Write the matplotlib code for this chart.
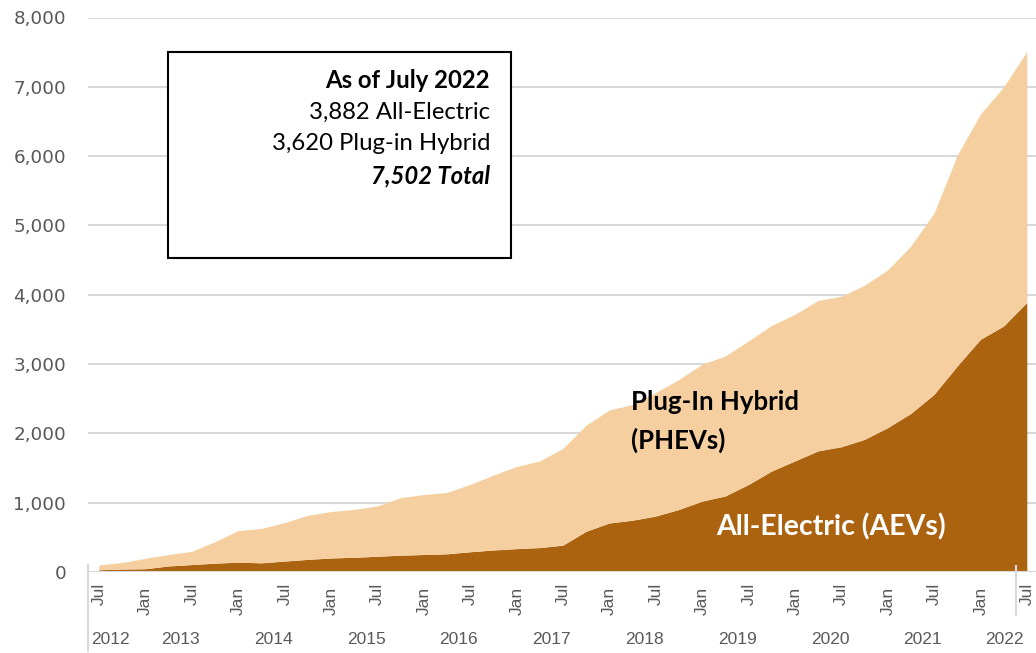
import matplotlib

matplotlib.use("Agg")
import matplotlib.pyplot as plt
import matplotlib.transforms as mtransforms
from matplotlib.lines import Line2D
from matplotlib.patches import Rectangle
from matplotlib.ticker import FuncFormatter

# quarterly snapshots, Jul 2012 .. Jul 2022
quarters = [
    "2012-07", "2012-10",
    "2013-01", "2013-04", "2013-07", "2013-10",
    "2014-01", "2014-04", "2014-07", "2014-10",
    "2015-01", "2015-04", "2015-07", "2015-10",
    "2016-01", "2016-04", "2016-07", "2016-10",
    "2017-01", "2017-04", "2017-07", "2017-10",
    "2018-01", "2018-04", "2018-07", "2018-10",
    "2019-01", "2019-04", "2019-07", "2019-10",
    "2020-01", "2020-04", "2020-07", "2020-10",
    "2021-01", "2021-04", "2021-07", "2021-10",
    "2022-01", "2022-04", "2022-07",
]
aev = [25, 35, 40, 80, 100, 120, 135, 125, 150, 175,
       195, 205, 220, 235, 245, 255, 285, 310, 330, 345,
       380, 580, 700, 740, 800, 895, 1015, 1090, 1255, 1450,
       1595, 1740, 1800, 1906, 2075, 2281, 2556, 2965, 3350, 3542,
       3882]
phev = [70, 95, 150, 165, 190, 310, 455, 495, 555, 635,
        670, 690, 725, 830, 865, 885, 970, 1080, 1185, 1250,
        1395, 1530, 1630, 1670, 1780, 1875, 1975, 2020, 2070, 2100,
        2115, 2170, 2170, 2224, 2275, 2414, 2614, 3040, 3250, 3448,
        3620]
month_names = {"01": "Jan", "07": "Jul"}
box_lines = ["As of July 2022", "3,882 All-Electric", "3,620 Plug-in Hybrid", "7,502 Total"]

DARK = "#AB6310"
LIGHT = "#F6CFA0"
GRID = "#D9D9D9"
TXT = "#595959"

W, H = 1036, 653
fig = plt.figure(figsize=(W / 100, H / 100), dpi=100)
ax = fig.add_axes([87.7 / W, 81 / H, 951.2 / W, 554.5 / H])

x = list(range(len(quarters)))
ax.stackplot(x, aev, phev, colors=[DARK, LIGHT], linewidth=0, zorder=2)

ax.set_xlim(-0.5, len(quarters) - 0.5)
ax.set_ylim(0, 8000)
ax.set_yticks(range(0, 8001, 1000))
ax.yaxis.set_major_formatter(FuncFormatter(lambda v, p: f"{int(v):,}"))
ax.tick_params(axis="y", length=0, pad=15.5, labelsize=13.2, labelcolor=TXT)
for lab in ax.get_yticklabels():
    lab.set_fontfamily("DejaVu Sans")
ax.set_xticks([])
ax.grid(axis="y", color=GRID, lw=1.5, zorder=0)
ax.set_axisbelow(True)
for s in ax.spines.values():
    s.set_visible(False)
ax.axhline(0, color=GRID, lw=1.5, zorder=3)

# two-level category axis drawn by hand
bt = mtransforms.blended_transform_factory(ax.transData, fig.transFigure)
for i, q in enumerate(quarters):
    m = q[5:]
    if m in month_names:
        ytop = 583 if m == "07" else 587
        ax.text(i, 1 - ytop / H, month_names[m], rotation=90, ha="center", va="top",
                fontsize=12.5, color=TXT, family="Liberation Sans", transform=bt)

years = sorted(set(q[:4] for q in quarters))
for yr in years:
    idx = [i for i, q in enumerate(quarters) if q[:4] == yr]
    ax.text(sum(idx) / len(idx), 1 - 640 / H, yr, ha="center", va="center",
            fontsize=12.5, color=TXT, family="Liberation Sans", transform=bt)

fig.add_artist(Line2D([-0.5, -0.5], [1 - 565 / H, 1 - 651 / H], color=GRID, lw=1.5, transform=bt))
fig.add_artist(Line2D([39.5, 39.5], [1 - 566 / H, 1 - 615 / H], color=GRID, lw=1.5, transform=bt))

# series labels
ax.text(22.9, 2455, "Plug-In Hybrid", fontsize=18.5, fontweight="bold", family="Lato",
        color="black", ha="left", va="center", zorder=4)
ax.text(22.9, 1906, "(PHEVs)", fontsize=18.5, fontweight="bold", family="Lato",
        color="black", ha="left", va="center", zorder=4)
ax.text(26.6, 650, "All-Electric (AEVs)", fontsize=20.5, fontweight="bold", family="Lato",
        color="white", ha="left", va="center", zorder=4)

# summary box
fig.add_artist(Rectangle((168 / W, 1 - 258 / H), 343 / W, 206 / H, transform=fig.transFigure,
                         facecolor="white", edgecolor="black", lw=1.5, zorder=5))
styles = [("bold", "normal"), ("normal", "normal"), ("normal", "normal"), ("bold", "italic")]
for k, (line, (wt, st)) in enumerate(zip(box_lines, styles)):
    fig.text(490 / W, 1 - (80 + 32 * k) / H, line, ha="right", va="center", fontsize=17.2,
             fontweight=wt, fontstyle=st, family="Lato", color="black", zorder=6)

fig.savefig("out.png", dpi=100)
